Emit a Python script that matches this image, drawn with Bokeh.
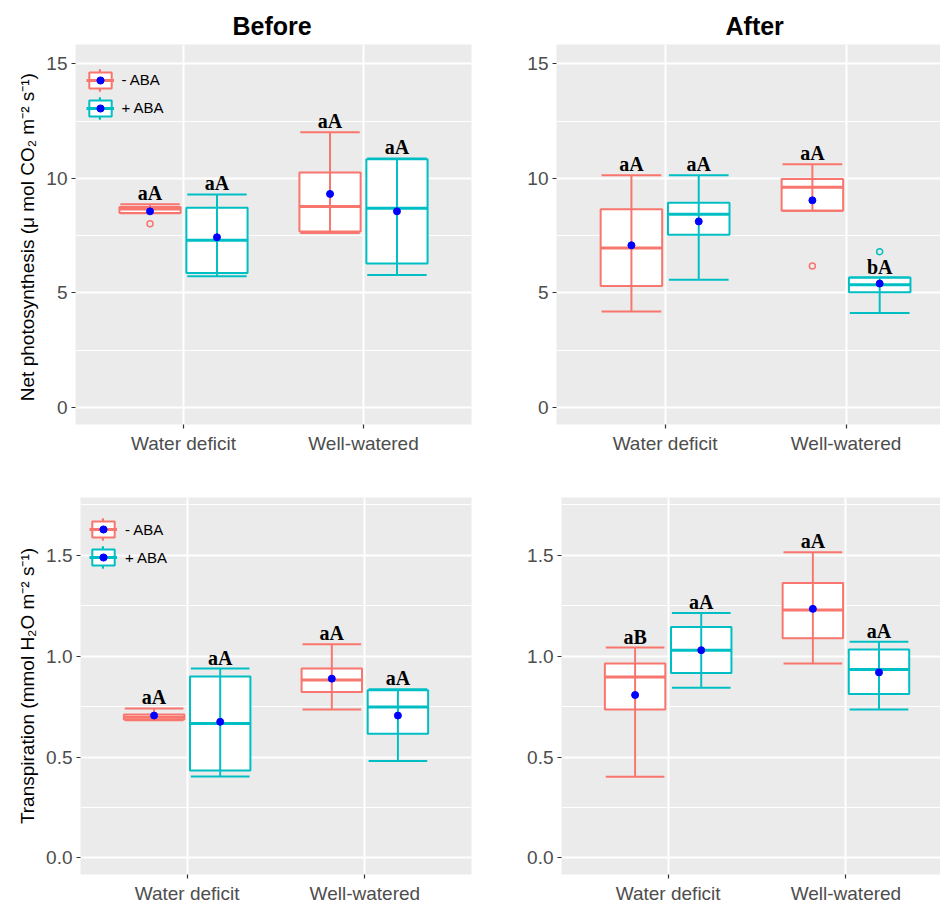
import numpy as np
from bokeh.plotting import figure
from bokeh.layouts import column, row
from bokeh.models import (ColumnDataSource, FixedTicker, Legend, LegendItem, Range1d,
                          NumeralTickFormatter)
from bokeh.core.properties import value
from bokeh.embed import file_html
from bokeh.resources import INLINE

# ---------------- data ----------------
categories = ["Water deficit", "Well-watered"]
groups = ["- ABA", "+ ABA"]
group_colors = ["#F8766D", "#00BFC4"]

# rows: groups (- ABA, + ABA); columns: categories
pn_before_lower = [[8.48, 7.62], [5.73, 5.78]]
pn_before_q1 = [[8.49, 7.68], [5.87, 6.28]]
pn_before_median = [[8.66, 8.77], [7.30, 8.69]]
pn_before_q3 = [[8.75, 10.26], [8.72, 10.83]]
pn_before_upper = [[8.87, 12.01], [9.30, 10.87]]
pn_before_mean = [[8.56, 9.32], [7.43, 8.56]]
pn_before_letters = [["aA", "aA"], ["aA", "aA"]]
pn_before_out_group = [0]
pn_before_out_cat = [0]
pn_before_out_value = [8.02]

pn_after_lower = [[4.19, 8.59], [5.58, 4.13]]
pn_after_q1 = [[5.30, 8.59], [7.54, 5.03]]
pn_after_median = [[6.96, 9.61], [8.43, 5.36]]
pn_after_q3 = [[8.65, 9.97], [8.94, 5.67]]
pn_after_upper = [[10.13, 10.61], [10.13, 5.67]]
pn_after_mean = [[7.08, 9.04], [8.12, 5.41]]
pn_after_letters = [["aA", "aA"], ["aA", "bA"]]
pn_after_out_group = [0, 1]
pn_after_out_cat = [1, 1]
pn_after_out_value = [6.18, 6.80]

tr_before_lower = [[0.683, 0.736], [0.404, 0.481]]
tr_before_q1 = [[0.686, 0.823], [0.434, 0.616]]
tr_before_median = [[0.698, 0.882], [0.667, 0.749]]
tr_before_q3 = [[0.711, 0.939], [0.900, 0.831]]
tr_before_upper = [[0.741, 1.060], [0.939, 0.836]]
tr_before_mean = [[0.706, 0.889], [0.675, 0.706]]
tr_before_letters = [["aA", "aA"], ["aA", "aA"]]
tr_before_out_group = []
tr_before_out_cat = []
tr_before_out_value = []

tr_after_lower = [[0.402, 0.964], [0.844, 0.736]]
tr_after_q1 = [[0.736, 1.089], [0.917, 0.813]]
tr_after_median = [[0.897, 1.229], [1.030, 0.934]]
tr_after_q3 = [[0.964, 1.363], [1.145, 1.033]]
tr_after_upper = [[1.043, 1.516], [1.215, 1.072]]
tr_after_mean = [[0.808, 1.235], [1.030, 0.920]]
tr_after_letters = [["aB", "aA"], ["aA", "aA"]]
tr_after_out_group = []
tr_after_out_cat = []
tr_after_out_value = []

pn_ticks = [0, 5, 10, 15]
pn_minor = [2.5, 7.5, 12.5]
tr_ticks = [0.0, 0.5, 1.0, 1.5]
tr_minor = [0.25, 0.75, 1.25, 1.75]

pn_label = "Net photosynthesis  (\u03bc mol CO\u2082 m\u207b\u00b2 s\u207b\u00b9)"
tr_label = "Transpiration (mmol H\u2082O m\u207b\u00b2 s\u207b\u00b9)"

# ---------------- styling ----------------
DODGE = [-0.186, 0.186]
BOX_W = 0.34
CAP_W = 0.33
WHISKER_W = 0.011
SANS = "Liberation Sans"


def make_fig(width, height, bl, br, bt, bb, xr, yr, ticks, minor, fmt,
             title=None, title_offset=0, ylabel=None, ylabel_standoff=5):
    p = figure(width=width, height=height, output_backend="svg", toolbar_location=None,
               x_range=Range1d(*xr), y_range=Range1d(*yr),
               min_border_left=bl, min_border_right=br,
               min_border_top=bt, min_border_bottom=bb,
               background_fill_color="#EBEBEB", border_fill_color="white",
               outline_line_color=None, title=title)
    if title:
        p.title.text_font = SANS
        p.title.text_font_size = "25px"
        p.title.text_font_style = "bold"
        p.title.text_color = "black"
        p.title.align = "left"
        p.title.offset = title_offset
        p.title.standoff = 9
    # x axis
    p.xaxis.ticker = FixedTicker(ticks=[i + 1 for i in range(len(categories))])
    p.xaxis.major_label_overrides = {i + 1: c for i, c in enumerate(categories)}
    p.xaxis.minor_tick_line_color = None
    # y axis
    p.yaxis.ticker = FixedTicker(ticks=ticks, minor_ticks=minor)
    p.yaxis.formatter = NumeralTickFormatter(format=fmt)
    p.yaxis.minor_tick_line_color = None
    for ax in (p.xaxis[0], p.yaxis[0]):
        ax.axis_line_color = None
        ax.major_tick_in = 0
        ax.major_tick_out = 4
        ax.major_tick_line_color = "#333333"
        ax.major_tick_line_width = 1.2
        ax.major_label_standoff = 4
        ax.major_label_text_font = SANS
        ax.major_label_text_font_size = "19px"
        ax.major_label_text_color = "#4D4D4D"
    if ylabel:
        p.yaxis.axis_label = ylabel
        p.yaxis.axis_label_text_font = SANS
        p.yaxis.axis_label_text_font_size = "19px"
        p.yaxis.axis_label_text_font_style = "normal"
        p.yaxis.axis_label_text_color = "black"
        p.yaxis.axis_label_standoff = ylabel_standoff
    # grid
    p.xgrid.grid_line_color = "white"
    p.xgrid.grid_line_width = 2
    p.ygrid.grid_line_color = "white"
    p.ygrid.grid_line_width = 2
    p.ygrid.minor_grid_line_color = "white"
    p.ygrid.minor_grid_line_width = 1
    return p


def draw_boxes(p, lower, q1, med, q3, upper, mean, letters, og, oc, ov):
    whisk_items, box_items, dot_items = [], [], []
    for g, grp in enumerate(groups):
        col = group_colors[g]
        x = np.array([i + 1 + DODGE[g] for i in range(len(categories))])
        src = ColumnDataSource(dict(
            x=x, lower=lower[g], q1=q1[g], med=med[g], q3=q3[g], upper=upper[g],
            mean=mean[g], letters=letters[g],
            cap0=x - CAP_W / 2, cap1=x + CAP_W / 2,
            box0=x - BOX_W / 2, box1=x + BOX_W / 2))
        box = p.vbar(x="x", width=BOX_W, bottom="q1", top="q3", source=src,
                     fill_color="white", line_color=col, line_width=2)
        whisk = p.vbar(x="x", width=WHISKER_W, bottom="lower", top="upper", source=src,
                       fill_color=col, line_color=None)
        p.segment(x0="cap0", y0="upper", x1="cap1", y1="upper", source=src,
                  line_color=col, line_width=2)
        p.segment(x0="cap0", y0="lower", x1="cap1", y1="lower", source=src,
                  line_color=col, line_width=2)
        medr = p.segment(x0="box0", y0="med", x1="box1", y1="med", source=src,
                         line_color=col, line_width=3)
        meanr = p.scatter(x="x", y="mean", source=src, marker="circle", size=7,
                          fill_color="blue", line_color="blue")
        p.text(x="x", y="upper", text="letters", source=src,
               text_font=value("Liberation Serif"), text_font_style="bold",
               text_font_size="20px", text_align="center",
               text_baseline="bottom", text_color="black")
        ox = [oc[k] + 1 + DODGE[g] for k in range(len(ov)) if og[k] == g]
        oy = [ov[k] for k in range(len(ov)) if og[k] == g]
        if ox:
            p.scatter(x=ox, y=oy, marker="circle", size=6, fill_color=None,
                      line_color=col, line_width=1.5)
        # key parts: whisker line and mean dot carry no text of their own
        whisk_items.append(LegendItem(label="", renderers=[whisk]))
        box_items.append(LegendItem(label=grp, renderers=[box, medr]))
        dot_items.append(LegendItem(label="", renderers=[meanr]))
    return whisk_items, box_items, dot_items


def add_legend(p, items, vx, vy):
    whisk_items, box_items, dot_items = items
    common = dict(padding=0, margin=0, label_text_font=SANS, label_text_font_size="15px",
                  background_fill_alpha=0, border_line_color=None)
    # whisker lines of the keys (drawn first, under the boxes)
    p.add_layout(Legend(items=whisk_items, location=(vx + 12.5, vy - 4),
                        glyph_width=3, glyph_height=28, label_height=20, spacing=0,
                        label_standoff=0, **common))
    # boxes with median line, and the visible labels
    p.add_layout(Legend(items=box_items, location=(vx, vy),
                        glyph_width=28, glyph_height=20, label_height=20, spacing=8,
                        label_standoff=8, label_text_color="black", **common))
    # mean dots
    p.add_layout(Legend(items=dot_items, location=(vx + 5, vy + 1),
                        glyph_width=18, glyph_height=18, label_height=18, spacing=10,
                        label_standoff=0, **common))


# ---------------- panels ----------------
TOP_FRAME = 380
BOT_FRAME = 379

p1 = make_fig(476, 460, 75, 5, 44, 36, (0.4, 2.6), (-0.74, 15.84), pn_ticks, pn_minor, "0",
              title="Before", title_offset=157, ylabel=pn_label)
add_legend(p1, draw_boxes(p1, pn_before_lower, pn_before_q1, pn_before_median,
                          pn_before_q3, pn_before_upper, pn_before_mean, pn_before_letters,
                          pn_before_out_group, pn_before_out_cat, pn_before_out_value),
           10.5, TOP_FRAME - 25.7 - 48)

p2 = make_fig(464, 460, 80, 0, 44, 36, (0.4, 2.522), (-0.74, 15.84), pn_ticks, pn_minor, "0",
              title="After", title_offset=169)
draw_boxes(p2, pn_after_lower, pn_after_q1, pn_after_median, pn_after_q3,
           pn_after_upper, pn_after_mean, pn_after_letters,
           pn_after_out_group, pn_after_out_cat, pn_after_out_value)

p3 = make_fig(476, 446, 80, 5, 37, 30, (0.4, 2.6), (-0.082, 1.787), tr_ticks, tr_minor, "0.0",
              ylabel=tr_label)
add_legend(p3, draw_boxes(p3, tr_before_lower, tr_before_q1, tr_before_median,
                          tr_before_q3, tr_before_upper, tr_before_mean, tr_before_letters,
                          tr_before_out_group, tr_before_out_cat, tr_before_out_value),
           8.9, BOT_FRAME - 24.3 - 48)

p4 = make_fig(464, 446, 85, 0, 37, 30, (0.4, 2.532), (-0.082, 1.787), tr_ticks, tr_minor, "0.0")
draw_boxes(p4, tr_after_lower, tr_after_q1, tr_after_median, tr_after_q3,
           tr_after_upper, tr_after_mean, tr_after_letters,
           tr_after_out_group, tr_after_out_cat, tr_after_out_value)

layout = column(row(p1, p2, spacing=0), row(p3, p4, spacing=0), spacing=0)

open("out.html", "w").write(file_html(layout, INLINE))
